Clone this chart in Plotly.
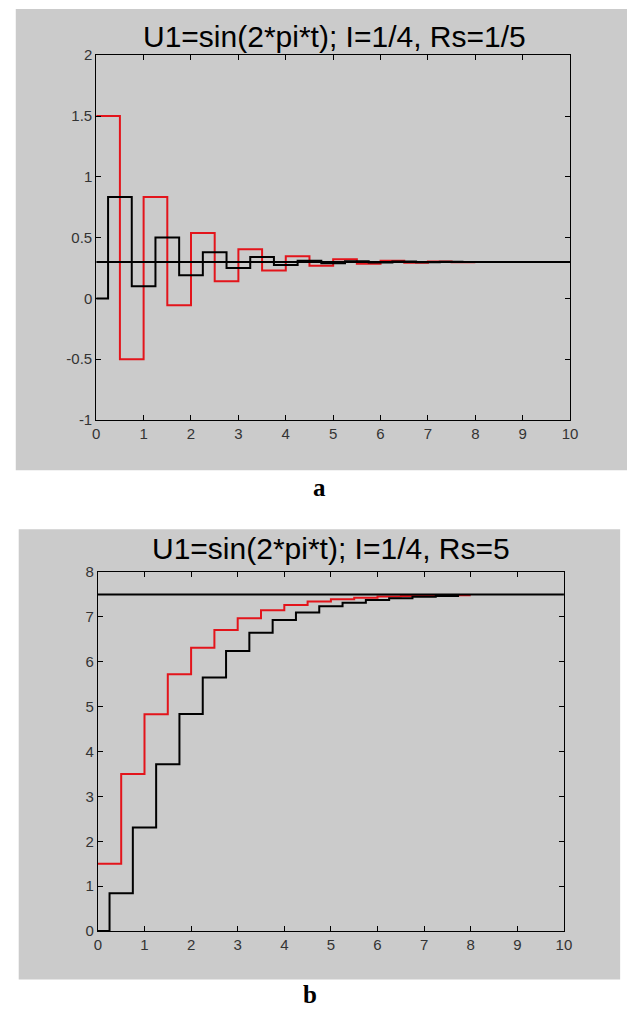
import plotly.graph_objects as go

# ---------------- data ----------------
# panel a : Rs = 1/5
a_red_t = [0, 0.5, 1.0, 1.5, 2.0, 2.5, 3.0, 3.5, 4.0, 4.5, 5.0, 5.5, 6.0, 6.5, 7.0, 7.5, 8.0]
a_red_v = [1.5, -0.5, 0.833, -0.056, 0.537, 0.142, 0.405, 0.230, 0.347, 0.269,
           0.321, 0.286, 0.309, 0.294, 0.304, 0.297, 0.297]
a_blk_t = [0, 0.25, 0.75, 1.25, 1.75, 2.25, 2.75, 3.25, 3.75, 4.25, 4.75, 5.25, 5.75,
           6.25, 6.75, 7.25, 7.75]
a_blk_v = [0.0, 0.833, 0.10, 0.50, 0.19, 0.38, 0.25, 0.34, 0.275, 0.31, 0.29, 0.305,
           0.295, 0.303, 0.298, 0.301, 0.301]
a_level = 0.3

# panel b : Rs = 5
b_red_t = [0, 0.5, 1.0, 1.5, 2.0, 2.5, 3.0, 3.5, 4.0, 4.5, 5.0, 5.5, 6.0, 6.5, 7.0, 7.5, 8.0]
b_red_v = [1.5, 3.5, 4.833, 5.722, 6.315, 6.71, 6.973, 7.149, 7.266, 7.344, 7.396,
           7.431, 7.454, 7.469, 7.479, 7.486, 7.486]
b_blk_t = [0, 0.25, 0.75, 1.25, 1.75, 2.25, 2.75, 3.25, 3.75, 4.25, 4.75, 5.25, 5.75,
           6.25, 6.75, 7.25, 7.75]
b_blk_v = [0.0, 0.84, 2.31, 3.72, 4.84, 5.65, 6.24, 6.65, 6.93, 7.10, 7.24, 7.32,
           7.38, 7.42, 7.45, 7.47, 7.47]
b_level = 7.5

x_ticks = [0, 1, 2, 3, 4, 5, 6, 7, 8, 9, 10]
a_yticks = [-1, -0.5, 0, 0.5, 1, 1.5, 2]
a_ytick_text = ["-1", "-0.5", "0", "0.5", "1", "1.5", "2"]
b_yticks = [0, 1, 2, 3, 4, 5, 6, 7, 8]

title_a = "U1=sin(2*pi*t); I=1/4, Rs=1/5"
title_b = "U1=sin(2*pi*t); I=1/4, Rs=5"

W, H = 635, 1016
RED = "#e3141b"
GRAY = "#cbcbcb"
FONT = "Arial, 'Liberation Sans', sans-serif"
SERIF = "'Times New Roman', 'Liberation Serif', serif"

fig = go.Figure()

def add_panel(n, red_t, red_v, blk_t, blk_v, level):
    xa = "x" if n == 1 else "x2"
    ya = "y" if n == 1 else "y2"
    fig.add_trace(go.Scatter(x=red_t, y=red_v, mode="lines", line=dict(color=RED, width=2, shape="hv"),
                             xaxis=xa, yaxis=ya, showlegend=False, hoverinfo="skip"))
    fig.add_trace(go.Scatter(x=[0, 10], y=[level, level], mode="lines", line=dict(color="black", width=2),
                             xaxis=xa, yaxis=ya, showlegend=False, hoverinfo="skip"))
    fig.add_trace(go.Scatter(x=blk_t, y=blk_v, mode="lines", line=dict(color="black", width=2, shape="hv"),
                             xaxis=xa, yaxis=ya, showlegend=False, hoverinfo="skip"))

add_panel(1, a_red_t, a_red_v, a_blk_t, a_blk_v, a_level)
add_panel(2, b_red_t, b_red_v, b_blk_t, b_blk_v, b_level)

def px_x(p):
    return p / W

def px_y(p):
    return 1 - p / H

axis_common = dict(showline=True, linecolor="black", linewidth=1, mirror="ticks", ticks="inside",
                   ticklen=5, tickwidth=1, tickcolor="black", showgrid=False, zeroline=False,
                   tickfont=dict(family=FONT, size=15, color="#333333"), fixedrange=True)

fig.update_layout(
    width=W, height=H, margin=dict(l=0, r=0, t=0, b=0),
    paper_bgcolor="white", plot_bgcolor="white",
    xaxis=dict(domain=[px_x(94), px_x(577)], range=[0, 10], tickvals=x_ticks, anchor="y", **axis_common),
    yaxis=dict(domain=[px_y(418), px_y(47)], range=[-1, 2], tickvals=a_yticks, ticktext=a_ytick_text,
               anchor="x", **axis_common),
    xaxis2=dict(domain=[px_x(95.7), px_x(570.7)], range=[0, 10], tickvals=x_ticks, anchor="y2", **axis_common),
    yaxis2=dict(domain=[px_y(937.7), px_y(572.7)], range=[0, 8], tickvals=b_yticks, anchor="x2", **axis_common),
    shapes=[
        dict(type="rect", xref="paper", yref="paper", x0=px_x(12), x1=px_x(635), y0=px_y(469), y1=px_y(0),
             fillcolor=GRAY, line=dict(width=0), layer="below"),
        dict(type="rect", xref="paper", yref="paper", x0=px_x(15), x1=px_x(628), y0=px_y(987), y1=px_y(529),
             fillcolor=GRAY, line=dict(width=0), layer="below"),
    ],
    annotations=[
        dict(text=title_a, xref="paper", yref="paper", x=px_x(337), y=px_y(28), xanchor="center",
             yanchor="middle", showarrow=False, font=dict(family=FONT, size=30, color="black")),
        dict(text=title_b, xref="paper", yref="paper", x=px_x(333), y=px_y(549), xanchor="center",
             yanchor="middle", showarrow=False, font=dict(family=FONT, size=30, color="black")),
        dict(text="<b>a</b>", xref="paper", yref="paper", x=px_x(322), y=px_y(487), xanchor="center",
             yanchor="middle", showarrow=False, font=dict(family=SERIF, size=25, color="black")),
        dict(text="<b>b</b>", xref="paper", yref="paper", x=px_x(312), y=px_y(1002), xanchor="center",
             yanchor="middle", showarrow=False, font=dict(family=SERIF, size=25, color="black")),
    ],
)

fig.write_html("out.html", config={"displayModeBar": False},
               post_script="document.body.style.margin='0';")
